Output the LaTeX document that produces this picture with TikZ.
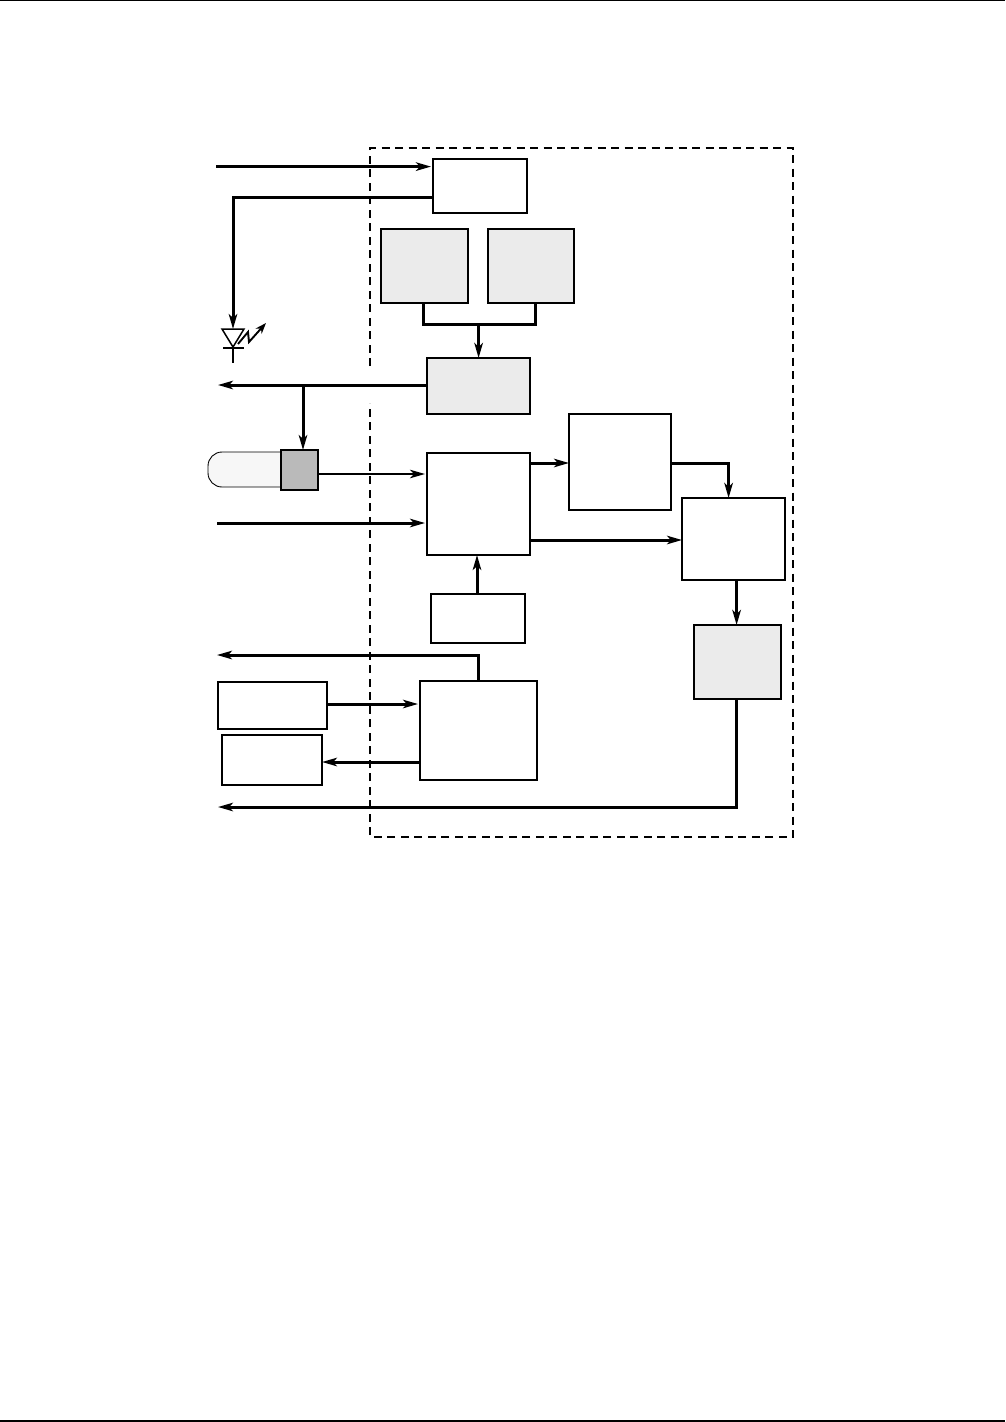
\documentclass[tikz,border=0pt]{standalone}
\usetikzlibrary{arrows.meta}
\tikzset{
  block/.style={draw=black, line width=1.7pt, inner sep=0pt, outer sep=0pt, fill=white},
  grayblock/.style={block, fill=black!8},
  plainbus/.style={line width=3pt},
  busline/.style={plainbus, -{Stealth[length=15pt,width=8.5pt,inset=4pt]}, shorten >=2pt},
  pagerule/.style={line width=1.5pt}
}
\begin{document}
\begin{tikzpicture}[x=1pt, y=-1pt]
  \useasboundingbox (0,0) rectangle (1005,1422);

  % Page rules
  \draw[pagerule] (0,0.6) -- (1005,0.6);
  \draw[pagerule] (0,1421) -- (1005,1421);

  % Module boundary (open on the left)
  \draw[dashed, line width=2pt, dash pattern=on 8pt off 5.5pt]
    (370,366) -- (370,148) -- (793,148) -- (793,837) -- (370,837) -- (370,403);

  % Blocks
  \node[block, minimum width=94pt, minimum height=54pt] (ctrl) at (480,186) {};
  \node[grayblock, minimum width=87pt, minimum height=74pt] (srcA) at (424.5,266) {};
  \node[grayblock, minimum width=86pt, minimum height=74pt] (srcB) at (531,266) {};
  \node[grayblock, minimum width=103pt, minimum height=56pt] (merge) at (478.5,386) {};
  \node[block, minimum width=103pt, minimum height=102pt] (detect) at (478.5,504) {};
  \node[block, minimum width=102pt, minimum height=96pt] (proc) at (620,462) {};
  \node[block, minimum width=103pt, minimum height=82pt] (mixer) at (733.5,539) {};
  \node[block, minimum width=94pt, minimum height=49pt] (ref) at (478,618.5) {};
  \node[grayblock, minimum width=87pt, minimum height=74pt] (output) at (737.5,662) {};
  \node[block, minimum width=117pt, minimum height=99pt] (iface) at (478.5,730.5) {};
  \node[block, minimum width=109pt, minimum height=47pt] (extA) at (272.5,705.5) {};
  \node[block, minimum width=100pt, minimum height=50pt] (extB) at (272,760) {};

  % Probe
  \draw[line width=0.9pt, fill=black!3, rounded corners=14pt] (285,452) -- (208,452) -- (208,487) -- (285,487);
  \node[block, fill=black!27, minimum width=37pt, minimum height=40pt] (probe) at (299.5,470) {};

  % Free ends
  \coordinate (inTop) at (216,166.6);
  \coordinate (ledIn) at (233,329);
  \coordinate (outMerge) at (218,385);
  \coordinate (inDetect) at (217,523);
  \coordinate (outIface) at (217,655);
  \coordinate (outMain) at (218,807);
  \coordinate (srcJoin) at (478.6,324);
  \coordinate (tapMerge) at (303,385);

  % Top section
  \draw[busline] (inTop) -- (ctrl.west |- inTop);
  \draw[busline, shorten >=0pt] (ctrl.west |- 0,197.6) -| (ledIn);
  \draw[plainbus] (srcA.south -| 423,0) |- (srcJoin) -| (srcB.south -| 535,0);
  \draw[busline, shorten >=0pt] (srcJoin) -- (merge.north -| srcJoin);

  % LED symbol
  \draw[line width=1.5pt] (222,329) -- (244,329) -- (233,347) -- cycle;
  \draw[line width=1.5pt] (223,348) -- (244,348);
  \draw[line width=2pt] (233,347) -- (233,363);
  \draw[line width=1.9pt, -{Stealth[length=11pt,width=8pt]}] (238,344) -- (248,332) -- (249,342) -- (266,323);

  % Middle section
  \draw[busline, shorten >=0pt] (merge.west |- outMerge) -- (outMerge);
  \draw[busline, shorten >=0pt] (tapMerge) -- (tapMerge |- probe.north);
  \draw[busline, line width=2pt] (probe.east |- 0,474) -- (detect.west |- 0,474);
  \draw[busline] (inDetect) -- (detect.west |- inDetect);
  \draw[busline, shorten >=0pt] (detect.east |- 0,463) -- (proc.west |- 0,463);
  \draw[busline, shorten >=0pt] (proc.east |- 0,463) -| (mixer.north -| 728.6,0);
  \draw[busline, shorten >=0pt] (detect.east |- 0,540) -- (mixer.west |- 0,540);
  \draw[busline, shorten >=0pt] (ref.north -| 477,0) -- (detect.south -| 477,0);
  \draw[busline, shorten >=0pt] (mixer.south -| 736.6,0) -- (output.north -| 736.6,0);

  % Bottom section
  \draw[busline, shorten >=0pt] (iface.north -| 478,0) |- (outIface);
  \draw[busline] (extA.east |- 0,704) -- (iface.west |- 0,704);
  \draw[busline, shorten >=0pt] (iface.west |- 0,762) -- (extB.east |- 0,762);
  \draw[busline, shorten >=0pt] (output.south -| 736.6,0) |- (outMain);
\end{tikzpicture}
\end{document}
